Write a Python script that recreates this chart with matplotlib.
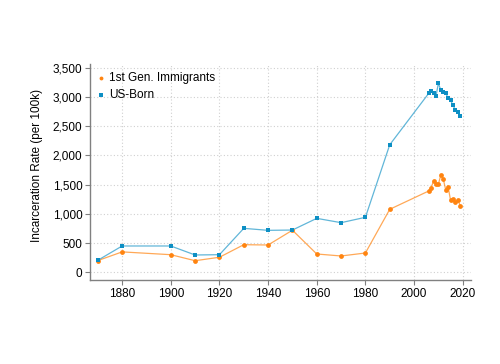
import matplotlib
matplotlib.use("Agg")
import matplotlib.pyplot as plt
from matplotlib.ticker import FuncFormatter, MultipleLocator

plt.rcParams['font.family'] = ['Liberation Sans', 'DejaVu Sans']

years = [1870, 1880, 1900, 1910, 1920, 1930, 1940, 1950, 1960, 1970, 1980, 1990,
         2006, 2007, 2008, 2009, 2010, 2011, 2012, 2013, 2014, 2015, 2016, 2017, 2018, 2019]
immigrants = [200, 349, 301, 198, 257, 472, 467, 720, 313, 279, 330, 1078,
              1391, 1447, 1562, 1505, 1510, 1664, 1596, 1413, 1459, 1232, 1254, 1197, 1232, 1139]
us_born = [205, 450, 450, 296, 301, 752, 718, 723, 923, 849, 941, 2183,
           3062, 3106, 3062, 3016, 3233, 3118, 3079, 3072, 2976, 2942, 2862, 2771, 2737, 2668]

orange = '#ff8410'
blue = '#0d8fc4'
fs = 8.5

fig = plt.figure(figsize=(5, 3.64), dpi=100)
ax = fig.add_axes([0.18, 0.2308, 0.762, 0.593])

ax.plot(years, immigrants, color=orange, alpha=0.7, lw=0.9, zorder=2)
ax.plot(years, us_born, color=blue, alpha=0.65, lw=0.9, zorder=2)
ax.scatter(years, immigrants, color=orange, marker='o', s=12, zorder=3, linewidths=0,
           label='1st Gen. Immigrants')
ax.scatter(years, us_born, color=blue, marker='s', s=12, zorder=3, linewidths=0,
           label='US-Born')

ax.set_xlim(1866.8, 2023.4)
ax.set_ylim(-132, 3563)
ax.xaxis.set_major_locator(MultipleLocator(20))
ax.yaxis.set_major_locator(MultipleLocator(500))
ax.yaxis.set_major_formatter(FuncFormatter(lambda v, p: f'{int(v):,}'))

ax.grid(True, color='#d0d0d0', linestyle=(0, (1, 2)), lw=0.8)
ax.set_axisbelow(True)
for s in ['top', 'right']:
    ax.spines[s].set_visible(False)
for s in ['left', 'bottom']:
    ax.spines[s].set_color('#808080')
    ax.spines[s].set_linewidth(1.0)
ax.tick_params(axis='both', colors='#808080', labelcolor='black', labelsize=fs,
               length=3.5, width=0.8, pad=2)

ax.set_ylabel('Incarceration Rate (per 100k)', fontsize=fs)
ax.yaxis.set_label_coords(-0.124, 0.53)

leg = ax.legend(loc='upper left', frameon=False, fontsize=fs, handletextpad=0.2,
                borderaxespad=0.0, labelspacing=0.45, handlelength=1.0,
                markerscale=0.8, bbox_to_anchor=(0.0, 0.985))

fig.savefig('out.png', dpi=100)
